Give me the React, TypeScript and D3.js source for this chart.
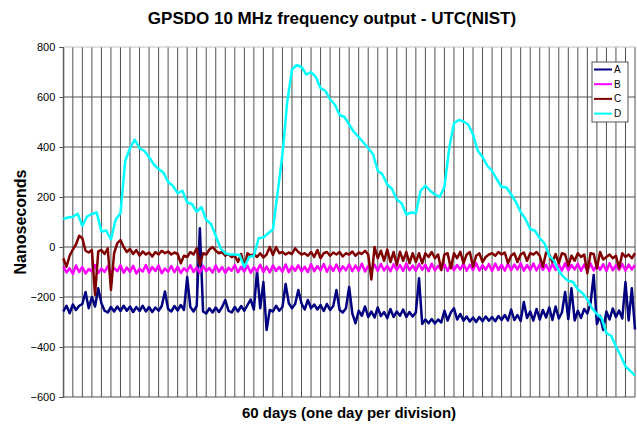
import React, { useEffect, useRef } from 'react';
import * as d3 from 'd3';

// chart data (nanoseconds)
const seriesNames = ['A', 'B', 'C', 'D'];
const seriesColors = ['#000080', '#ff00ff', '#800000', '#00ffff'];
const yTicks = [800, 600, 400, 200, 0, -200, -400, -600];
const dayCount = 60;

// 3 samples per day
const seriesA = [
  -258, -235, -265, -230, -252, -235, -228, -180, -245, -200, -238, -165, -225, -255, -262, -240, -258, -238, -256, -235,
  -255, -238, -260, -240, -256, -235, -258, -240, -260, -242, -255, -236, -178, -248, -258, -236, -254, -232, -252, -120,
  -240, -258, -236, 75, -258, -266, -245, -262, -242, -260, -240, -212, -255, -262, -240, -258, -236, -255, -232, -210,
  -250, -95, -245, -140, -332, -252, -258, -235, -255, -240, -148, -225, -245, -228, -172, -226, -250, -212, -245, -230,
  -250, -232, -256, -228, -252, -236, -172, -252, -262, -245, -160, -266, -305, -255, -275, -238, -280, -258, -282, -242,
  -276, -260, -285, -248, -280, -258, -275, -250, -280, -260, -278, -262, -125, -308, -290, -305, -288, -306, -290, -302,
  -255, -294, -262, -245, -290, -268, -295, -278, -298, -282, -300, -280, -297, -278, -295, -280, -297, -276, -292, -272,
  -294, -250, -292, -272, -296, -220, -284, -258, -294, -248, -290, -252, -282, -242, -292, -238, -286, -262, -180, -288,
  -165, -294, -255, -284, -248, -266, -225, -112, -308, -276, -332, -258, -290, -246, -280, -254, -286, -140, -294, -165,
  -330,
];

const seriesB = [
  -78, -102, -85, -108, -74, -100, -80, -106, -88, -98, -72, -104, -86, -100, -76, -107, -84, -97, -73, -103,
  -82, -99, -75, -106, -87, -98, -72, -102, -80, -96, -74, -105, -86, -99, -76, -101, -78, -104, -85, -97,
  -73, -100, -82, -103, -76, -96, -84, -102, -74, -99, -80, -104, -83, -95, -72, -101, -79, -98, -75, -103,
  -81, -97, -71, -100, -78, -102, -74, -96, -80, -99, -70, -101, -77, -95, -73, -98, -79, -100, -69, -97,
  -76, -94, -68, -99, -75, -96, -70, -98, -77, -93, -69, -97, -74, -95, -67, -98, -76, -92, -70, -96,
  -68, -94, -75, -97, -69, -92, -72, -96, -66, -93, -74, -95, -68, -91, -71, -97, -67, -94, -75, -92,
  -69, -96, -66, -93, -72, -90, -67, -95, -71, -92, -65, -94, -73, -91, -68, -96, -66, -92, -71, -95,
  -67, -93, -70, -90, -65, -95, -72, -92, -66, -94, -69, -91, -71, -96, -67, -92, -70, -94, -65, -93,
  -72, -90, -67, -95, -70, -92, -66, -94, -71, -91, -69, -96, -65, -93, -73, -92, -68, -95, -70, -90,
  -72,
];

const seriesC = [
  -45, -79, -35, -10, 10, 45, 35, -15, -22, -12, -192, -18, -12, -28, -5, -172, -25, 15, 28, 0,
  -20, -8, -28, -12, -35, -18, -30, -22, -38, -20, -30, -15, -25, -18, -30, -22, -28, -65, -35, -40,
  -20, -30, -5, -72, -25, -30, -10, 0, -15, -25, -20, -35, -28, -40, -35, -60, -28, -80, -25, -35,
  -28, -40, -25, -42, -30, 0, -32, 0, -25, -20, -30, -22, -28, -5, -20, -30, -25, -35, -20, -40,
  -12, -45, -25, -20, -35, -22, -30, -20, -38, -25, -30, -18, -35, -22, -28, -15, -30, -130, 0, -45,
  -15, -55, -10, -60, -20, -72, -19, -55, -20, -65, -25, -60, -25, -65, -25, -40, -20, -45, -30, -92,
  -30, -25, -85, -25, -45, -19, -65, -30, -20, -79, -35, -25, -60, -40, -30, -25, -35, -20, -30, -22,
  -65, -35, -25, -60, -30, -22, -55, -25, -30, -20, -35, -79, -22, -30, -60, -28, -65, -25, -30, -75,
  -35, -55, -25, -40, -30, -105, -25, -28, -85, -20, -50, -40, -30, -45, -35, -85, -25, -40, -30, -45,
  -25,
];

// 2 samples per day
const seriesD = [
  112, 118, 121, 133, 85, 122, 132, 138, 62, 66, 30, 110, 135, 345, 395, 430, 395, 385, 360, 330,
  312, 298, 260, 245, 215, 225, 178, 172, 141, 160, 108, 92, 45, -5, -25, -30, -30, -32, -80, -40,
  -35, 35, 38, 55, 70, 220, 370, 580, 710, 728, 720, 690, 700, 680, 635, 625, 590, 570, 528, 520,
  490, 460, 440, 418, 395, 372, 305, 290, 250, 232, 190, 175, 130, 138, 135, 225, 245, 225, 210, 200,
  240, 395, 495, 508, 502, 490, 450, 385, 360, 325, 305, 270, 240, 238, 210, 180, 140, 112, 72, 65,
  35, 15, -35, -55, -95, -120, -135, -140, -170, -185, -210, -245, -268, -285, -345, -355, -398, -435, -478, -495,
  -515,
];

const allSeries = [seriesA, seriesB, seriesC, seriesD];

const App = () => {
  const svgRef = useRef<SVGSVGElement>(null);
  const width = 637;
  const height = 429;
  const plot = { left: 63.3, right: 635, top: 47, bottom: 397 };

  useEffect(() => {
    const svg = d3.select(svgRef.current);
    svg.selectAll('*').remove();

    const x = d3.scaleLinear().domain([0, dayCount]).range([plot.left, plot.right]);
    const y = d3.scaleLinear().domain([-600, 800]).range([plot.bottom, plot.top]);

    svg.append('rect').attr('width', width).attr('height', height).attr('fill', '#fff');

    // vertical gridlines, one per day
    svg.append('g')
      .selectAll('line')
      .data(d3.range(0, dayCount + 1))
      .join('line')
      .attr('x1', d => x(d))
      .attr('x2', d => x(d))
      .attr('y1', plot.top)
      .attr('y2', plot.bottom)
      .attr('stroke', '#505050')
      .attr('stroke-width', 1);

    // horizontal gridlines
    svg.append('g')
      .selectAll('line')
      .data(yTicks)
      .join('line')
      .attr('x1', plot.left)
      .attr('x2', plot.right)
      .attr('y1', d => y(d))
      .attr('y2', d => y(d))
      .attr('stroke', d => (d === 800 ? '#c0c0c0' : '#505050'))
      .attr('stroke-width', 1);

    // y axis
    const yAxis = svg.append('g')
      .attr('transform', `translate(${plot.left},0)`)
      .call(d3.axisLeft(y).tickValues(yTicks).tickSize(4).tickPadding(4).tickFormat(d3.format('d')));
    yAxis.select('.domain').attr('stroke', '#555');
    yAxis.selectAll('.tick line').attr('stroke', '#555');
    yAxis.selectAll('.tick text')
      .attr('font-family', 'Arial, "Liberation Sans", sans-serif')
      .attr('font-size', 11)
      .attr('fill', '#000');

    // series lines
    allSeries.forEach((values, k) => {
      const idx = d3.scaleLinear().domain([0, values.length - 1]).range([0, dayCount]);
      const line = d3.line<number>()
        .x((d, i) => x(idx(i)))
        .y(d => y(d));
      svg.append('path')
        .datum(values)
        .attr('d', line)
        .attr('fill', 'none')
        .attr('stroke', seriesColors[k])
        .attr('stroke-width', 2.5)
        .attr('stroke-linejoin', 'round');
    });

    // titles
    svg.append('text')
      .attr('x', 332)
      .attr('y', 24)
      .attr('text-anchor', 'middle')
      .attr('font-family', 'Arial, "Liberation Sans", sans-serif')
      .attr('font-weight', 'bold')
      .attr('font-size', 17)
      .text('GPSDO 10 MHz frequency output - UTC(NIST)');

    svg.append('text')
      .attr('x', 349)
      .attr('y', 418)
      .attr('text-anchor', 'middle')
      .attr('font-family', 'Arial, "Liberation Sans", sans-serif')
      .attr('font-weight', 'bold')
      .attr('font-size', 15)
      .text('60 days (one day per division)');

    svg.append('text')
      .attr('transform', 'translate(26,222) rotate(-90)')
      .attr('text-anchor', 'middle')
      .attr('font-family', 'Arial, "Liberation Sans", sans-serif')
      .attr('font-weight', 'bold')
      .attr('font-size', 16)
      .text('Nanoseconds');

    // legend
    const legend = svg.append('g').attr('transform', 'translate(592,62)');
    legend.append('rect')
      .attr('width', 36)
      .attr('height', 60)
      .attr('fill', '#fff')
      .attr('stroke', '#555');
    seriesNames.forEach((name, i) => {
      const ly = 7.5 + i * 14.7;
      legend.append('line')
        .attr('x1', 2).attr('x2', 20)
        .attr('y1', ly).attr('y2', ly)
        .attr('stroke', seriesColors[i])
        .attr('stroke-width', 2);
      legend.append('text')
        .attr('x', 22)
        .attr('y', ly + 3.5)
        .attr('font-family', 'Arial, "Liberation Sans", sans-serif')
        .attr('font-size', 10)
        .text(name);
    });
  }, []);

  return (
    <svg
      ref={svgRef}
      width={width}
      height={height}
      style={{ position: 'absolute', left: 0, top: 0 }}
    ></svg>
  );
};

export default App;
